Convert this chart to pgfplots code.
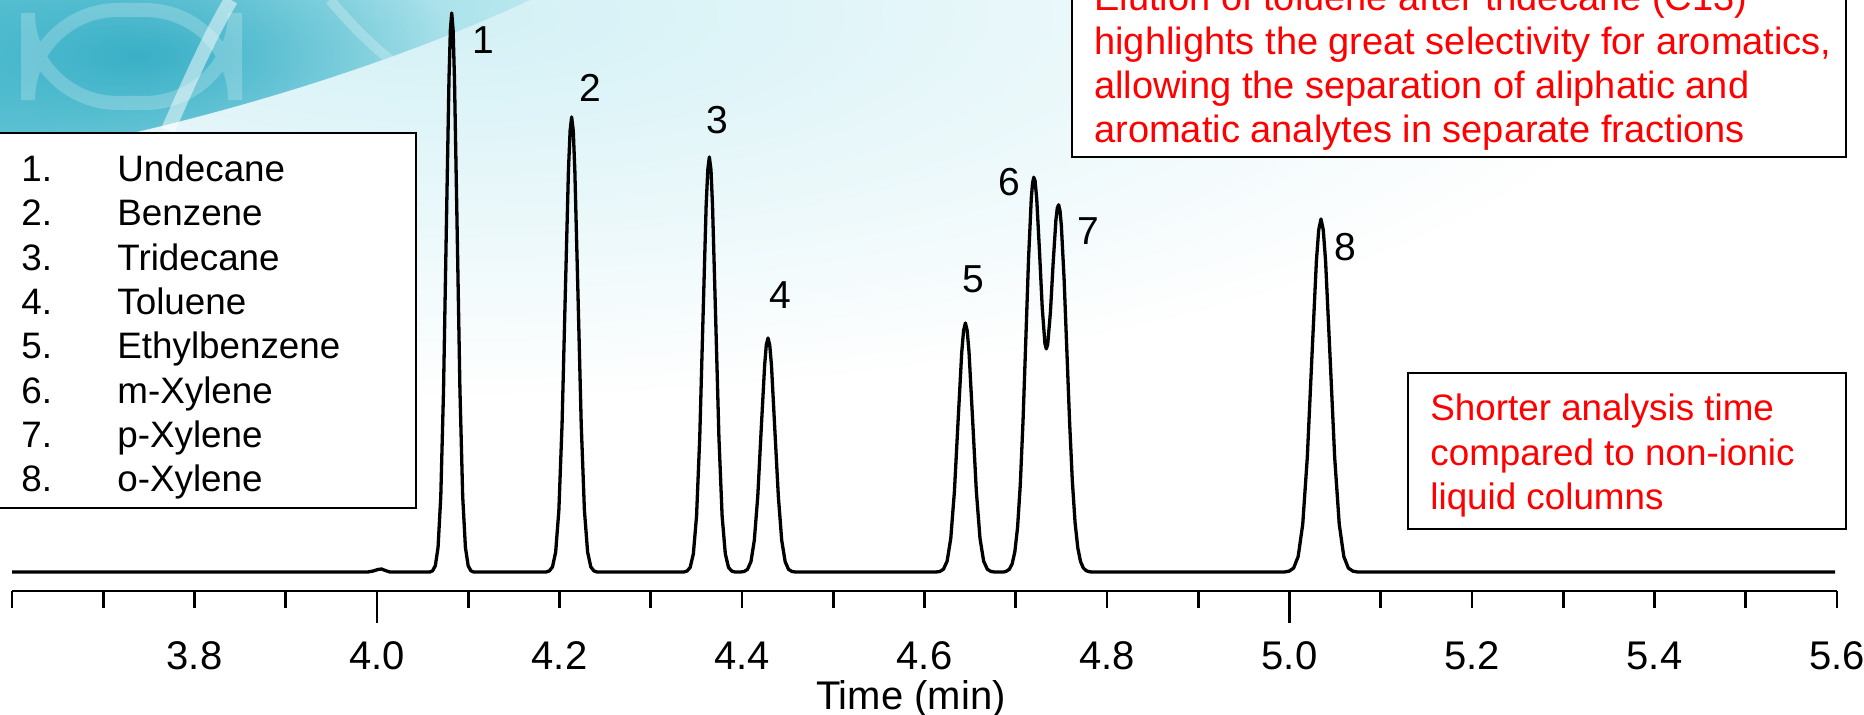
\documentclass[border=0pt]{standalone}
\usepackage{pgfplots}
\pgfplotsset{compat=1.18}
\usetikzlibrary{fadings}
\tikzfading[name=softdisk, inner color=transparent!0, outer color=transparent!100]
\usepackage{fontspec}
\setmainfont{Liberation Sans}
\definecolor{tA}{RGB}{105,200,215}
\definecolor{tB}{RGB}{185,232,239}
\definecolor{tC}{RGB}{45,170,195}
\definecolor{swB}{RGB}{212,241,246}
\newcommand\boxfont{\fontsize{18.4}{22}\selectfont}
\newcommand\notefont{\fontsize{19}{23}\selectfont}
\newcommand\pkfont{\fontsize{19.5}{23}\selectfont}
\begin{document}
\begin{tikzpicture}
\path[use as bounding box] (0,0) rectangle (932pt,357.5pt);
% background and boxes, in pixel units of the reference (y up)
\begin{scope}[x=0.5pt,y=0.5pt]
  \begin{scope}
    \clip (0,0) rectangle (1864,715);
    \fill[white] (0,0) rectangle (1864,715);
    \fill[swB, path fading=softdisk] (450,700) ellipse [x radius=1200, y radius=380];
    \begin{scope}
      \clip (0,715) -- (530,715) .. controls (390,650) and (200,590) .. (0,555) -- cycle;
      \shade[left color=tA, right color=tB] (0,550) rectangle (530,715);
      \fill[tC, opacity=0.85, path fading=softdisk] (140,660) ellipse [x radius=320, y radius=130];
      \draw[white, opacity=0.22, line width=7, rounded corners=45] (28,612) rectangle (235,705);
      \draw[white, opacity=0.25, line width=5] (330,715) .. controls (360,680) and (390,650) .. (430,630);
    \end{scope}
    \draw[white, opacity=0.5, line width=7] (168,585) .. controls (190,635) and (210,680) .. (231,715);
  \end{scope}
  % legend box
  \draw[line width=1.1pt, fill=white] (-3,207) rectangle (416,582);
  \foreach \n/\name [count=\i from 0] in {1/Undecane,2/Benzene,3/Tridecane,4/Toluene,5/Ethylbenzene,6/m-Xylene,7/p-Xylene,8/o-Xylene}{
    \node[anchor=base west, inner sep=0pt, font=\boxfont] at (21,{533.3-44.3*\i}) {\n.};
    \node[anchor=base west, inner sep=0pt, font=\boxfont] at (117,{533.3-44.3*\i}) {\name};
  }
  % top comment box
  \draw[line width=1.1pt, fill=white] (1072,558) rectangle (1846,740);
  \node[anchor=base west, inner sep=0pt, font=\notefont, text=red] at (1094,704.3) {Elution of toluene after tridecane (C13)};
  \node[anchor=base west, inner sep=0pt, font=\notefont, text=red] at (1094,660.3) {highlights the great selectivity for aromatics,};
  \node[anchor=base west, inner sep=0pt, font=\notefont, text=red] at (1094,616.3) {allowing the separation of aliphatic and};
  \node[anchor=base west, inner sep=0pt, font=\notefont, text=red] at (1094,572.3) {aromatic analytes in separate fractions};
  % bottom comment box
  \draw[line width=1.1pt, fill=white] (1408,185.7) rectangle (1846,341.7);
  \node[anchor=base west, inner sep=0pt, font=\boxfont, text=red] at (1430,294) {Shorter analysis time};
  \node[anchor=base west, inner sep=0pt, font=\boxfont, text=red] at (1430,249.5) {compared to non-ionic};
  \node[anchor=base west, inner sep=0pt, font=\boxfont, text=red] at (1430,205) {liquid columns};
\end{scope}

\begin{axis}[
  at={(6pt,62pt)}, anchor=south west,
  scale only axis, width=912.5pt, height=295.5pt,
  xmin=3.6, xmax=5.6, ymin=-19, ymax=572,
  clip=false,
  hide y axis,
  axis x line*=bottom,
  x axis line style={line width=1.3pt, -},
  tick align=outside,
  xtick={3.8,4.0,4.2,4.4,4.6,4.8,5.0,5.2,5.4,5.6},
  minor xtick={3.6,3.7,3.9,4.1,4.3,4.5,4.7,4.9,5.1,5.3,5.5},
  major tick length=8.5pt, minor tick length=8.5pt,
  every tick/.style={black, line width=1.3pt},
  extra x ticks={4.0,5.0},
  extra x tick labels={},
  extra x tick style={major tick length=16pt},
  xticklabel style={font=\fontsize{20}{24}\selectfont, anchor=base, yshift=-31pt,
    /pgf/number format/.cd, fixed, fixed zerofill, precision=1, assume math mode=true},
  xlabel={Time (min)},
  xlabel style={font=\fontsize{20}{24}\selectfont, at={(rel axis cs:0.4925,0)}, anchor=base, yshift=-59.4pt},
]
\addplot[black, line width=1.65pt, line join=round] coordinates {
  (3.600,0) (3.990,0) (3.996,1) (4.001,2.5) (4.005,3) (4.009,1.5) (4.014,0)
  % 1 undecane
  (4.0579,0)(4.0609,1.2)(4.0639,6.2)(4.0669,24.5)(4.0699,75.6)(4.0729,181.5)(4.0759,339.0)(4.0789,493.3)
  (4.0804,541.8)(4.0819,559)(4.0834,541.8)
  (4.0849,493.3)(4.0879,339.0)(4.0909,181.5)(4.0939,75.6)(4.0969,24.5)(4.0999,6.2)(4.1029,1.2)(4.1059,0)
  % 2 benzene
  (4.1853,0)(4.1888,1.0)(4.1923,5.1)(4.1958,20.0)(4.1993,61.6)(4.2028,147.7)(4.2063,276.0)(4.2098,401.5)
  (4.2116,441.0)(4.2133,455)(4.2151,441.0)
  (4.2168,401.5)(4.2203,276.0)(4.2238,147.7)(4.2273,61.6)(4.2308,20.0)(4.2343,5.1)(4.2378,1.0)(4.2413,0)
  % 3 tridecane
  (4.3362,0)(4.3397,0.9)(4.3432,4.6)(4.3467,18.2)(4.3502,56.1)(4.3537,134.8)(4.3572,251.7)(4.3607,366.2)
  (4.3625,402.2)(4.3642,415)(4.3660,402.2)
  (4.3677,366.2)(4.3712,251.7)(4.3747,134.8)(4.3782,56.1)(4.3817,18.2)(4.3852,4.6)(4.3887,0.9)(4.3922,0)
  % 4 toluene
  (4.3985,0)(4.4023,0.5)(4.4060,2.6)(4.4098,10.3)(4.4135,31.7)(4.4173,76.0)(4.4210,141.9)(4.4248,206.5)
  (4.4266,226.8)(4.4285,234)(4.4304,226.8)
  (4.4323,206.5)(4.4360,141.9)(4.4398,76.0)(4.4435,31.7)(4.4473,10.3)(4.4510,2.6)(4.4548,0.5)(4.4585,0)
  % 5 ethylbenzene
  (4.6128,0)(4.6168,0.5)(4.6208,2.8)(4.6248,10.9)(4.6288,33.7)(4.6328,80.9)(4.6368,151.0)(4.6408,219.7)
  (4.6428,241.3)(4.6448,249)(4.6468,241.3)
  (4.6488,219.7)(4.6528,151.0)(4.6568,80.9)(4.6608,33.7)(4.6648,10.9)(4.6688,2.8)(4.6728,0.5)(4.6768,0)
  % 6 m-xylene + 7 p-xylene
  (4.6870,0)(4.6900,0.9)(4.6930,2.8)(4.6960,8.0)(4.6990,20.2)(4.7020,44.7)(4.7050,87.7)(4.7080,151.7)
  (4.7110,231.6)(4.7140,312.7)(4.7170,373.2)(4.7184,388.8)(4.7197,394.7)(4.7212,391.0)(4.7230,373.0)
  (4.7260,321.1)(4.7290,264.4)(4.7320,228.2)(4.7335,223.1)(4.7350,227.5)(4.7380,259.9)(4.7410,309.2)
  (4.7440,351.9)(4.7455,363.9)(4.7470,367.2)(4.7485,361.3)(4.7500,346.0)(4.7530,292.5)(4.7560,221.4)
  (4.7590,150.1)(4.7620,91.0)(4.7650,49.4)(4.7680,24.0)(4.7710,10.4)(4.7740,4.1)(4.7770,1.4)(4.7800,0.4)(4.7830,0)
  % 8 o-xylene
  (4.9945,0)(4.9995,0.8)(5.0045,3.9)(5.0095,15.5)(5.0145,47.8)(5.0195,114.6)(5.0245,214.1)(5.0295,311.5)
  (5.0320,342.1)(5.0345,353)(5.0370,342.1)
  (5.0395,311.5)(5.0445,214.1)(5.0495,114.6)(5.0545,47.8)(5.0595,15.5)(5.0645,3.9)(5.0695,0.8)(5.0745,0)
  (5.598,0)
};
\end{axis}

% peak numbers
\begin{scope}[x=0.5pt,y=0.5pt, every node/.style={inner sep=0pt, font=\pkfont}]
  \node at (483,675) {1};
  \node at (590,627.5) {2};
  \node at (717,595) {3};
  \node at (780,420) {4};
  \node at (973,436) {5};
  \node at (1009,532.5) {6};
  \node at (1088,484) {7};
  \node at (1345,467.5) {8};
\end{scope}
\end{tikzpicture}
\end{document}
